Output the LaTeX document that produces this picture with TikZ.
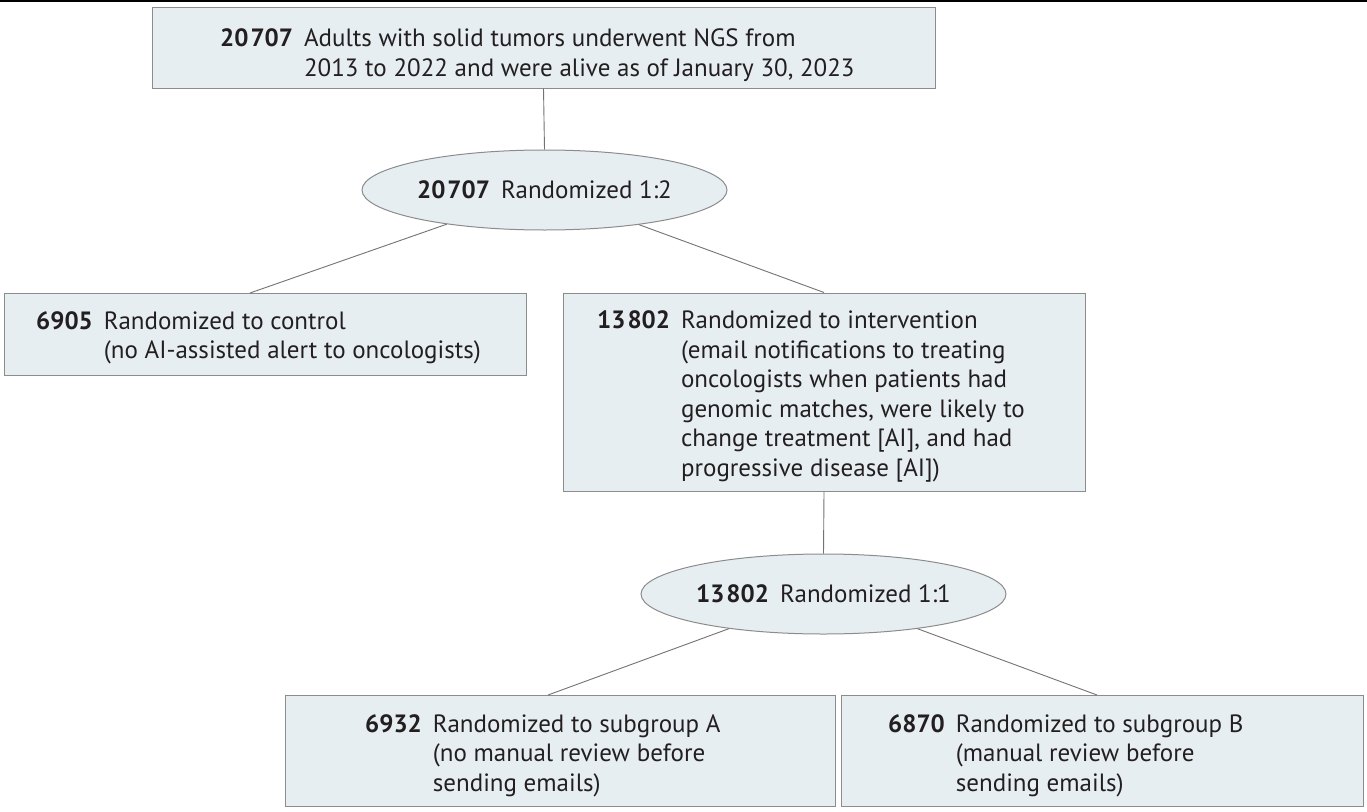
\documentclass[tikz,border=0pt]{standalone}
\usepackage{fontspec}
\setmainfont{PT Sans}
\usetikzlibrary{shapes.geometric}
\definecolor{boxfill}{RGB}{231,238,242}
\definecolor{boxline}{RGB}{140,140,140}
\definecolor{conn}{RGB}{115,115,115}
\definecolor{txt}{RGB}{35,31,32}
\newcommand{\numgap}{\hspace{2pt}}
\begin{document}
\begin{tikzpicture}[x=1pt,y=-1pt,
  boxnode/.style={draw=boxline,fill=boxfill,line width=1pt,inner sep=0pt,rectangle},
  ellnode/.style={draw=boxline,fill=boxfill,line width=1pt,ellipse,inner sep=0pt,
     minimum width=365pt,minimum height=80pt,text=txt,font=\fontsize{25}{29.5}\selectfont},
  txtnode/.style={anchor=base west,inner sep=0pt,text=txt,font=\fontsize{25}{29.5}\selectfont},
  connline/.style={draw=conn,line width=0.9pt}]
\useasboundingbox (0,0) rectangle (1367,811);
\fill[white] (0,0) rectangle (1367,811);
\draw[line width=1.5pt,black] (0,0.75) -- (1367,0.75);
% boxes
\node[boxnode,minimum width=783pt,minimum height=81pt] (b1) at (543.5,47.5) {};
\node[boxnode,minimum width=522pt,minimum height=82pt] (ctrl) at (265,334) {};
\node[boxnode,minimum width=522pt,minimum height=198pt] (intv) at (824,392) {};
\node[boxnode,minimum width=550pt,minimum height=111pt] (suba) at (560,750.5) {};
\node[boxnode,minimum width=522pt,minimum height=111pt] (subb) at (1102,750.5) {};
% ellipses
\node[ellnode] (e1) at (544.5,190) {\textbf{20\numgap707}\hspace{11pt}Randomized 1:2};
\node[ellnode] (e2) at (823.5,594) {\textbf{13\numgap802}\hspace{11pt}Randomized 1:1};
% texts
\node[txtnode] (t1) at (220,46.5) {\begin{tabular}[t]{@{}l@{\hspace{11pt}}l@{}}
\textbf{20\numgap707} & Adults with solid tumors underwent NGS from\\
 & 2013 to 2022 and were alive as of January 30, 2023\end{tabular}};
\node[txtnode] (tc) at (36,329) {\begin{tabular}[t]{@{}l@{\hspace{11pt}}l@{}}
\textbf{6905} & Randomized to control\\
 & (no AI-assisted alert to oncologists)\end{tabular}};
\node[txtnode] (ti) at (597,328.5) {\begin{tabular}[t]{@{}l@{\hspace{11pt}}l@{}}
\textbf{13\numgap802} & Randomized to intervention\\
 & (email notifications to treating\\
 & oncologists when patients had\\
 & genomic matches, were likely to\\
 & change treatment [AI], and had\\
 & progressive disease [AI])\end{tabular}};
\node[txtnode] (ta) at (365,732) {\begin{tabular}[t]{@{}l@{\hspace{11pt}}l@{}}
\textbf{6932} & Randomized to subgroup A\\
 & (no manual review before\\
 & sending emails)\end{tabular}};
\node[txtnode] (tb) at (888,732) {\begin{tabular}[t]{@{}l@{\hspace{11pt}}l@{}}
\textbf{6870} & Randomized to subgroup B\\
 & (manual review before\\
 & sending emails)\end{tabular}};
% connectors
\coordinate (ctrltop) at (250,293);
\coordinate (suatop) at (548,695);
\coordinate (subtop) at (1097,695);
\draw[connline] (b1.south) -- (e1.north);
\draw[connline] (e1) -- (ctrltop);
\draw[connline] (e1) -- (intv.north);
\draw[connline] (intv.south) -- (e2.north);
\draw[connline] (e2) -- (suatop);
\draw[connline] (e2) -- (subtop);
\end{tikzpicture}
\end{document}
